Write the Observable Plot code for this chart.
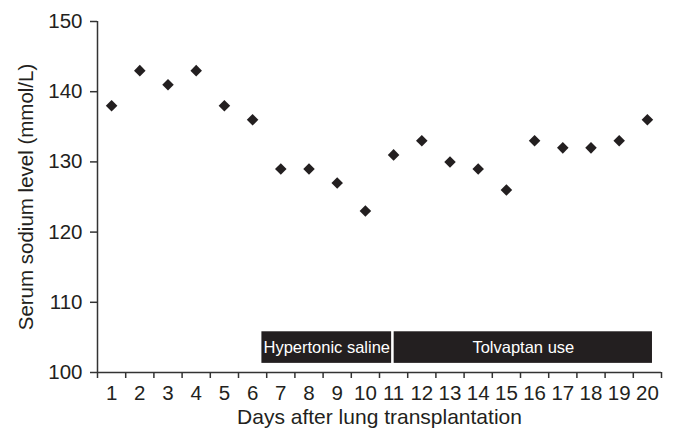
<!DOCTYPE html>
<html><head><meta charset="utf-8">
<script src="https://cdn.jsdelivr.net/npm/d3@7"></script>
<script src="https://cdn.jsdelivr.net/npm/@observablehq/plot@0.6"></script>
<style>body{margin:0;background:#fff;} svg{font-family:"Liberation Sans",Arial,sans-serif;}</style>
</head><body><div id="chart"></div>
<script>
const days = [1,2,3,4,5,6,7,8,9,10,11,12,13,14,15,16,17,18,19,20];
const sodium = [138,143,141,143,138,136,129,129,127,123,131,133,130,129,126,133,132,132,133,136];
const yTicks = [100,110,120,130,140,150];
const xTickEdges = [0.5,1.5,2.5,3.5,4.5,5.5,6.5,7.5,8.5,9.5,10.5,11.5,12.5,13.5,14.5,15.5,16.5,17.5,18.5,19.5,20.5];
const treatments = ["Hypertonic saline","Tolvaptan use"];
const treatStart = [6.33, 11.02];
const treatEnd = [10.93, 20.18];
const treatLow = [101.3, 101.3];
const treatHigh = [105.8, 105.8];

const points = days.map((d,i)=>({day:d, value:sodium[i]}));
const bars = treatments.map((t,i)=>({label:t, x1:treatStart[i], x2:treatEnd[i], y1:treatLow[i], y2:treatHigh[i]}));
const ink = "#231f20";
const chart = Plot.plot({
  width:673, height:434, marginLeft:97, marginRight:12, marginTop:21, marginBottom:62,
  x:{domain:[0.5,20.5]}, y:{domain:[100,150]},
  style:{fontFamily:'"Liberation Sans",Arial,sans-serif', color:ink, background:"white"},
  marks:[
    Plot.rect(bars,{x1:"x1",x2:"x2",y1:"y1",y2:"y2",fill:ink}),
    Plot.text(bars,{x:d=>(d.x1+d.x2)/2, y:d=>(d.y1+d.y2)/2, text:"label", fill:"white", fontSize:16.5}),
    Plot.axisY({ticks:yTicks, tickSize:7, tickPadding:8, fontSize:20.5, label:null, stroke:"#333", strokeWidth:1.5}),
    Plot.axisX({ticks:xTickEdges, tickSize:6, tickFormat:()=>"", label:null, stroke:"#333", strokeWidth:1.5}),
    Plot.axisX({ticks:days, tickSize:0, tickPadding:13, fontSize:20.5, label:null}),
    Plot.ruleX([0.5],{y1:100,y2:150,stroke:"#333",strokeWidth:1.5}),
    Plot.ruleY([100],{x1:0.5,x2:20.5,stroke:"#333",strokeWidth:1.5}),
    Plot.dot(points,{x:"day",y:"value",symbol:"diamond2",r:5.2,fill:ink,stroke:null}),
    Plot.text(["Days after lung transplantation"],{frameAnchor:"bottom", dy:51, fontSize:21, fill:ink}),
    Plot.text(["Serum sodium level (mmol/L)"],{frameAnchor:"left", textAnchor:"middle", rotate:-90, dx:-71, fontSize:20.5, fill:ink})
  ]
});
document.getElementById("chart").appendChild(chart);
</script>
</body></html>
